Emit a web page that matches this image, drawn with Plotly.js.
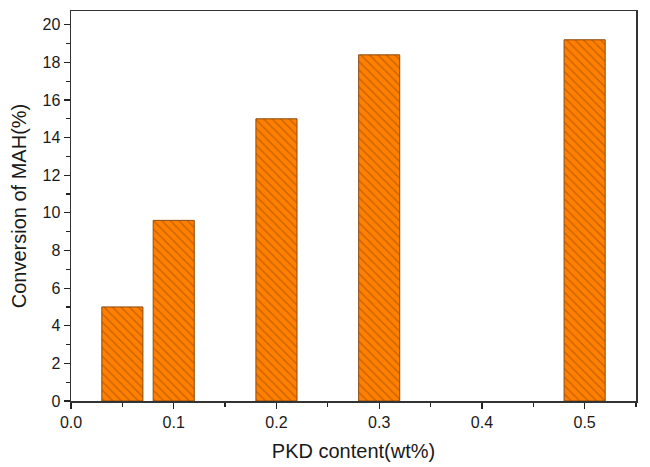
<!DOCTYPE html>
<html>
<head>
<meta charset="utf-8">
<script src="https://cdn.plot.ly/plotly-3.0.1.min.js"></script>
<style>html,body{margin:0;padding:0;background:#fff;}#chart{width:650px;height:467px;}</style>
</head>
<body>
<div id="chart"></div>
<script>
var pkdContent = [0.05, 0.1, 0.2, 0.3, 0.5];
var conversion = [5.0, 9.6, 15.0, 18.4, 19.2];
var xTickVals = [0.0, 0.1, 0.2, 0.3, 0.4, 0.5];
var xTickText = ["0.0", "0.1", "0.2", "0.3", "0.4", "0.5"];
var yTickVals = [0, 2, 4, 6, 8, 10, 12, 14, 16, 18, 20];

var trace = {
  type: 'bar',
  x: pkdContent,
  y: conversion,
  width: 0.04,
  marker: {
    color: '#FF8000',
    line: {color: '#8a4a10', width: 1},
    pattern: {shape: '\\', fillmode: 'overlay', bgcolor: '#FF8000', fgcolor: '#9a4800', size: 6, solidity: 0.25}
  },
  hoverinfo: 'skip'
};

var fontFam = 'Arial, "Liberation Sans", sans-serif';
var layout = {
  width: 650, height: 467,
  margin: {l: 71, r: 14, t: 11, b: 66},
  paper_bgcolor: '#fff', plot_bgcolor: '#fff',
  showlegend: false,
  font: {family: fontFam, color: '#1a1a1a'},
  xaxis: {
    range: [0, 0.55],
    tickvals: xTickVals, ticktext: xTickText,
    ticks: 'outside', ticklen: 6, tickwidth: 1.2, tickcolor: '#222',
    minor: {dtick: 0.05, ticks: 'outside', ticklen: 4, tickcolor: '#222', showgrid: false},
    showline: true, linecolor: '#333', linewidth: 1.5, mirror: true,
    showgrid: false, zeroline: false,
    tickfont: {size: 16, family: fontFam, color: '#1a1a1a'},
    title: {text: 'PKD content(wt%)', font: {size: 20, family: fontFam, color: '#1a1a1a'}, standoff: 14}
  },
  yaxis: {
    range: [0, 20.73],
    tickvals: yTickVals,
    ticks: 'outside', ticklen: 6, tickwidth: 1.2, tickcolor: '#222',
    minor: {dtick: 1, ticks: 'outside', ticklen: 4, tickcolor: '#222', showgrid: false},
    showline: true, linecolor: '#333', linewidth: 1.5, mirror: true,
    showgrid: false, zeroline: false,
    tickfont: {size: 16, family: fontFam, color: '#1a1a1a'},
    title: {text: 'Conversion of MAH(%)', font: {size: 20, family: fontFam, color: '#1a1a1a'}, standoff: 10}
  }
};

Plotly.newPlot('chart', [trace], layout, {staticPlot: true, displayModeBar: false});
</script>
</body>
</html>
